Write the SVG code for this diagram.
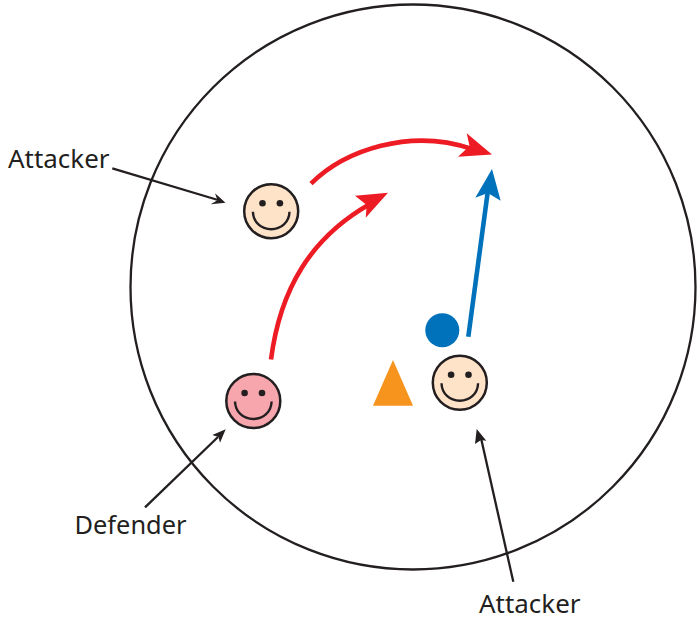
<svg xmlns="http://www.w3.org/2000/svg" width="698" height="620" viewBox="0 0 698 620">
<style>
.ring{fill:none;stroke:#231f20;stroke-width:2.3}
.face{stroke:#231f20;stroke-width:2.5}
.eye{fill:#231f20}
.smile{fill:none;stroke:#231f20;stroke-width:2.4;stroke-linecap:butt}
.lead{fill:none;stroke:#231f20;stroke-width:2.3}
.leadhead{fill:#231f20}
.red{fill:none;stroke:#ed1c24;stroke-width:4.6}
.redhead{fill:#ed1c24}
.blue{fill:none;stroke:#0072bc;stroke-width:4.6}
.bluehead{fill:#0072bc}
.label{font-family:"Noto Sans","Open Sans","Liberation Sans",sans-serif;font-size:25px;fill:#231f20}
</style>
<defs>
<g id="smiley-features">
<circle class="eye" cx="-8.7" cy="-8" r="3.3"/>
<circle class="eye" cx="8.7" cy="-8" r="3.3"/>
<path class="smile" d="M-18.3 0.5C-18 11-10 18 0 18C10 18 18 11 18.3 0.5"/>
</g>
</defs>
<circle id="boundary" class="ring" cx="413" cy="287" r="282.5"/>
<g id="connectors">
<path class="lead" d="M112.3 168.3L218 200"/>
<polygon class="leadhead" points="225.5,202.7 215,193.3 217.5,200.3 210.7,204.3"/>
<path class="lead" d="M145 507.3L218 437"/>
<polygon class="leadhead" points="225.7,429.3 212.3,435 218.5,437 220,442.7"/>
<path class="lead" d="M513.3 581.7L481 438"/>
<polygon class="leadhead" points="476.7,429 475,444 481,440 486.3,440.7"/>
<path class="red" d="M311 183.7C345 150 410 128 472 149"/>
<polygon class="redhead" points="492,154.5 466.7,133.3 469.5,146 458,156.7"/>
<path class="red" d="M271 359.5C280 290 310 238 370 204"/>
<polygon class="redhead" points="388,192.7 355,195.7 366.7,205 365.7,217.7"/>
<path class="blue" d="M468.3 336.7L488 190"/>
<polygon class="bluehead" points="492,169 475.3,197.7 487.8,193 500.7,200.7"/>
</g>
<g id="attacker-top">
<circle class="face" cx="271.2" cy="211.2" r="27" fill="#fee3c9"/>
<use href="#smiley-features" x="271.2" y="211.2"/>
</g>
<g id="defender">
<circle class="face" cx="253.3" cy="401" r="27" fill="#f6a6ac"/>
<use href="#smiley-features" x="253.3" y="401"/>
</g>
<g id="attacker-bottom">
<circle class="face" cx="459.8" cy="382.7" r="27" fill="#fee3c9"/>
<use href="#smiley-features" x="459.8" y="382.7"/>
</g>
<g id="ball"><circle cx="442.3" cy="330.3" r="17" fill="#0072bc"/></g>
<g id="cone"><polygon points="393,360 413,405.7 373,405.7" fill="#f7941d"/></g>
<g id="label-attacker-top"><text class="label" x="8" y="168" textLength="101.5" lengthAdjust="spacingAndGlyphs">Attacker</text></g>
<g id="label-defender"><text class="label" x="74.5" y="534.3" textLength="112" lengthAdjust="spacingAndGlyphs">Defender</text></g>
<g id="label-attacker-bottom"><text class="label" x="479" y="613" textLength="101.5" lengthAdjust="spacingAndGlyphs">Attacker</text></g>
</svg>
